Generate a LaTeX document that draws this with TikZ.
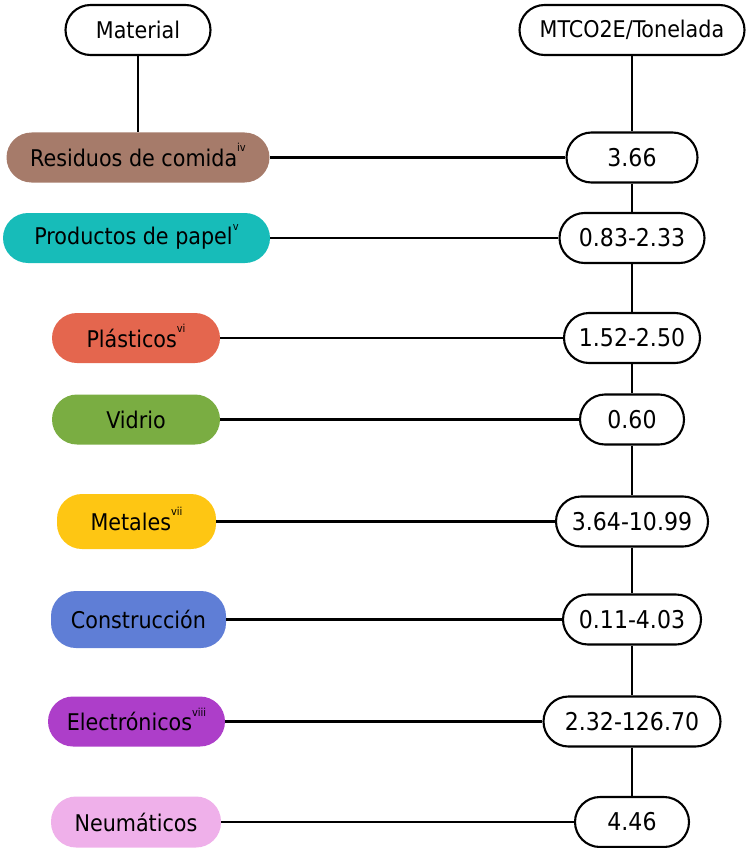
\documentclass[tikz,border=0pt]{standalone}
\usepackage{fontspec}
\setmainfont{DejaVu Sans Condensed}
\definecolor{cres}{HTML}{A67B6A}
\definecolor{cpap}{HTML}{17BCB9}
\definecolor{cpla}{HTML}{E4664E}
\definecolor{cvid}{HTML}{7AAD42}
\definecolor{cmet}{HTML}{FEC613}
\definecolor{ccon}{HTML}{5F7ED6}
\definecolor{cele}{HTML}{AD3EC9}
\definecolor{cneu}{HTML}{EFB0EA}
\newcommand{\rnum}[1]{\raisebox{.62em}[0pt][0pt]{\fontsize{11}{11}\selectfont #1}}
\begin{document}
\begin{tikzpicture}[x=1pt,y=-1pt,
    head/.style={draw, line width=2.1pt, fill=white, rounded corners=25pt, minimum height=50pt, inner sep=0pt, font=\fontsize{23}{27}\selectfont},
    matbox/.style={fill=#1, rounded corners=25pt, minimum height=50pt, inner sep=0pt, font=\fontsize{23}{27}\selectfont},
    valbox/.style={draw, line width=2.1pt, fill=white, rounded corners=25pt, minimum height=50pt, inner sep=0pt, font=\fontsize{24.5}{29}\selectfont},
    link/.style={line width=2.7pt}]
  \useasboundingbox (0,0) rectangle (746,848);
  % headers
  \node[head, minimum width=145pt] (mat) at (138,30) {Material};
  \node[head, minimum width=225pt] (mtco) at (632,30) {MTCO2E/Tonelada};
  % materials
  \node[matbox=cres, minimum width=263pt] (res) at (138,157.5) {Residuos de comida\rnum{iv}};
  \node[matbox=cpap, minimum width=267pt] (pap) at (136.5,238) {Productos de papel\rnum{v}};
  \node[matbox=cpla, minimum width=168pt] (pla) at (136,338) {Plásticos\rnum{vi}};
  \node[matbox=cvid, minimum width=168pt] (vid) at (136,419.5) {Vidrio};
  \node[matbox=cmet, minimum width=159pt, minimum height=55pt] (met) at (136.5,521.5) {Metales\rnum{vii}};
  \node[matbox=ccon, minimum width=175pt, minimum height=57pt] (con) at (138.5,619.5) {Construcción};
  \node[matbox=cele, minimum width=177pt] (ele) at (136.5,721.5) {Electrónicos\rnum{viii}};
  \node[matbox=cneu, minimum width=170pt, minimum height=51pt] (neu) at (136,822) {Neumáticos};
  % values
  \node[valbox, minimum width=131pt] (vres) at (632,157.5) {3.66};
  \node[valbox, minimum width=145pt] (vpap) at (632,238) {0.83-2.33};
  \node[valbox, minimum width=136pt] (vpla) at (632,338) {1.52-2.50};
  \node[valbox, minimum width=104pt] (vvid) at (632,419.5) {0.60};
  \node[valbox, minimum width=152pt] (vmet) at (632,521.5) {3.64-10.99};
  \node[valbox, minimum width=138pt] (vcon) at (632,619.5) {0.11-4.03};
  \node[valbox, minimum width=177pt] (vele) at (632,721.5) {2.32-126.70};
  \node[valbox, minimum width=114pt] (vneu) at (632,822) {4.46};
  % connectors
  \draw[link] (mat) -- (res);
  \draw[link] (mtco) -- (vres);
  \foreach \a/\b in {vres/vpap,vpap/vpla,vpla/vvid,vvid/vmet,vmet/vcon,vcon/vele,vele/vneu}
    \draw[link] (\a) -- (\b);
  \foreach \m in {res,pap,pla,vid,met,con,ele,neu}
    \draw[link] (\m) -- (v\m);
\end{tikzpicture}
\end{document}
